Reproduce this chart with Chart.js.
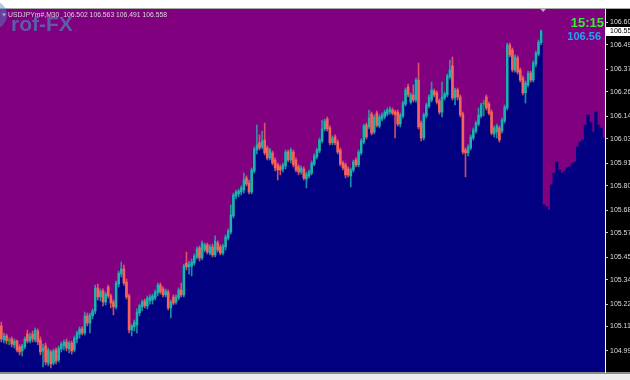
<!DOCTYPE html>
<html><head><meta charset="utf-8">
<style>html,body{margin:0;padding:0;background:#fff;overflow:hidden}canvas{display:block}</style>
<script src="https://cdn.jsdelivr.net/npm/chart.js@4.4.1/dist/chart.umd.min.js"></script>
</head><body>
<canvas id="c" width="630" height="380"></canvas>
<script>
const symbolTitle = 'USDJPYm#,M30';
const clockText = '15:15';
const watermark = 'rof-FX';

const opens = [105.113,105.044,105.064,105.039,105.049,105.020,105.039,105.010,104.990,105.010,105.073,105.039,105.073,105.044,105.088,105.044,104.990,105.015,104.931,104.985,104.931,104.995,104.946,105.000,105.015,105.034,105.000,105.029,104.995,105.049,105.073,105.098,105.078,105.162,105.127,105.162,105.186,105.299,105.255,105.284,105.230,105.304,105.260,105.230,105.206,105.318,105.367,105.392,105.328,105.260,105.093,105.108,
105.118,105.176,105.206,105.235,105.211,105.235,105.240,105.250,105.274,105.313,105.294,105.265,105.279,105.201,105.255,105.230,105.250,105.289,105.265,105.421,105.402,105.406,105.421,105.451,105.495,105.446,105.485,105.510,105.470,105.500,105.461,105.519,105.500,105.470,105.500,105.544,105.573,105.652,105.750,105.760,105.769,105.779,105.838,105.813,105.769,105.872,105.975,106.010,105.990,106.024,105.985,105.936,
105.961,105.926,105.902,105.892,105.882,105.897,105.965,105.926,105.965,105.926,105.892,105.867,105.882,105.833,105.848,105.862,105.906,105.941,105.970,106.019,106.078,106.127,106.083,106.010,106.039,106.014,105.975,105.911,105.902,105.882,105.848,105.877,105.926,105.902,105.961,106.014,106.097,106.088,106.151,106.063,106.156,106.093,106.127,106.137,106.151,106.161,106.171,106.161,106.161,106.102,106.142,106.200,106.284,
106.210,106.245,106.220,106.318,106.107,106.034,106.142,106.191,106.220,106.264,106.255,106.215,106.161,106.230,106.245,106.333,106.387,106.230,106.269,106.235,106.151,105.975,105.961,105.985,106.034,106.068,106.102,106.142,106.200,106.235,106.200,106.161,106.054,106.063,106.083,106.068,106.117,106.181,106.490,106.465,106.367,106.426,106.367,106.328,106.255,106.294,106.352,106.318,106.396,106.445,106.502];

const highs = [105.132,105.078,105.073,105.054,105.059,105.049,105.044,105.020,105.024,105.059,105.093,105.078,105.088,105.103,105.098,105.059,105.024,105.029,105.005,104.995,105.000,105.005,105.015,105.034,105.044,105.049,105.039,105.039,105.064,105.088,105.108,105.108,105.181,105.176,105.176,105.196,105.313,105.318,105.294,105.294,105.279,105.313,105.269,105.240,105.333,105.382,105.426,105.411,105.343,105.269,105.122,105.142,
105.196,105.220,105.240,105.245,105.260,105.265,105.269,105.289,105.323,105.323,105.304,105.294,105.289,105.240,105.265,105.265,105.299,105.323,105.416,105.475,105.431,105.441,105.465,105.500,105.505,105.529,105.519,105.519,105.510,105.514,105.554,105.529,105.510,105.514,105.559,105.588,105.706,105.764,105.779,105.784,105.799,105.862,105.848,105.828,105.887,105.990,106.097,106.049,106.068,106.107,105.995,105.985,
105.970,105.936,105.911,105.902,105.911,105.975,105.975,105.985,105.975,105.936,105.902,105.897,105.892,105.867,105.877,105.921,105.956,105.985,106.034,106.122,106.127,106.137,106.093,106.044,106.049,106.024,105.985,105.921,105.911,105.892,105.887,105.926,105.936,105.975,106.029,106.102,106.107,106.171,106.161,106.147,106.166,106.147,106.156,106.171,106.181,106.186,106.181,106.171,106.171,106.156,106.215,106.279,106.298,
106.255,106.294,106.328,106.401,106.117,106.156,106.205,106.245,106.308,106.274,106.264,106.225,106.308,106.259,106.347,106.416,106.431,106.279,106.279,106.245,106.161,105.985,106.000,106.049,106.083,106.117,106.181,106.205,106.220,106.245,106.210,106.171,106.093,106.102,106.093,106.132,106.196,106.499,106.499,106.475,106.441,106.436,106.377,106.338,106.313,106.362,106.362,106.411,106.460,106.514,106.563];

const lows = [105.034,105.029,105.024,105.020,105.010,105.005,104.985,104.971,104.966,105.000,105.029,105.029,105.034,105.034,105.020,104.971,104.912,104.922,104.917,104.907,104.922,104.926,104.936,104.985,104.995,104.990,104.980,104.975,104.985,105.029,105.054,105.069,105.069,105.113,105.078,105.147,105.172,105.240,105.235,105.211,105.216,105.250,105.201,105.167,105.196,105.304,105.353,105.313,105.245,105.078,105.064,105.088,
105.078,105.162,105.186,105.201,105.196,105.220,105.220,105.240,105.260,105.269,105.255,105.255,105.191,105.152,105.216,105.220,105.240,105.255,105.255,105.387,105.367,105.358,105.411,105.441,105.431,105.436,105.475,105.465,105.461,105.451,105.451,105.475,105.461,105.461,105.485,105.534,105.563,105.642,105.735,105.745,105.755,105.764,105.799,105.760,105.760,105.862,105.956,105.975,105.980,105.951,105.926,105.926,
105.902,105.872,105.828,105.853,105.867,105.882,105.916,105.911,105.892,105.867,105.853,105.857,105.828,105.789,105.838,105.853,105.897,105.931,105.961,106.010,106.068,106.068,106.000,106.000,106.000,105.956,105.897,105.877,105.838,105.843,105.794,105.867,105.892,105.892,105.951,106.005,106.029,106.078,106.049,106.054,106.088,106.083,106.117,106.127,106.142,106.151,106.147,106.034,106.093,106.088,106.132,106.191,106.235,
106.200,106.210,106.210,106.078,106.019,106.024,106.132,106.181,106.210,106.235,106.200,106.151,106.137,106.220,106.235,106.323,106.220,106.196,106.220,106.137,105.956,105.843,105.946,105.975,106.024,106.058,106.093,106.132,106.142,106.171,106.147,106.049,106.039,106.034,106.014,106.058,106.107,106.171,106.431,106.357,106.357,106.347,106.308,106.245,106.205,106.284,106.308,106.308,106.382,106.436,106.491];

const closes = [105.049,105.064,105.039,105.039,105.024,105.039,104.995,104.985,105.015,105.049,105.039,105.064,105.049,105.093,105.034,104.985,105.005,104.936,104.995,104.926,104.990,104.941,105.005,105.024,105.034,105.005,105.029,104.990,105.054,105.078,105.098,105.078,105.162,105.127,105.167,105.186,105.299,105.255,105.284,105.230,105.269,105.260,105.225,105.206,105.323,105.372,105.392,105.323,105.255,105.093,105.113,105.132,
105.181,105.211,105.230,105.211,105.250,105.255,105.260,105.279,105.313,105.279,105.265,105.284,105.201,105.230,105.225,105.255,105.289,105.265,105.406,105.402,105.416,105.426,105.456,105.490,105.446,105.519,105.510,105.475,105.500,105.461,105.529,105.485,105.470,105.505,105.549,105.578,105.657,105.755,105.769,105.774,105.789,105.828,105.808,105.769,105.877,105.980,106.000,105.985,106.019,105.961,105.936,105.975,
105.911,105.887,105.877,105.877,105.902,105.965,105.926,105.975,105.902,105.877,105.867,105.887,105.838,105.857,105.867,105.911,105.946,105.975,106.024,106.078,106.117,106.078,106.010,106.034,106.010,105.965,105.906,105.887,105.853,105.853,105.877,105.916,105.902,105.965,106.019,106.093,106.039,106.132,106.058,106.137,106.097,106.137,106.147,106.161,106.171,106.176,106.156,106.147,106.102,106.147,106.205,106.269,106.245,
106.245,106.220,106.318,106.088,106.034,106.147,106.196,106.235,106.269,106.245,106.210,106.161,106.235,106.250,106.338,106.367,106.230,106.269,106.235,106.147,105.965,105.961,105.990,106.039,106.073,106.107,106.147,106.196,106.200,106.181,106.156,106.058,106.083,106.093,106.024,106.122,106.186,106.490,106.441,106.367,106.431,106.357,106.318,106.255,106.303,106.352,106.318,106.401,106.450,106.504,106.558];

// histogram values continuing to the right of the last candle
const futureHist = [105.706,105.696,105.681,105.804,105.862,105.916,105.877,105.862,105.872,105.887,105.892,105.911,105.916,105.990,106.014,106.024,106.097,106.147,106.112,106.063,106.161,106.097,106.083,106.034];

const tickValues = [104.99,105.11,105.22,105.34,105.45,105.57,105.68,105.80,105.91,106.03,106.14,106.26,106.37,106.49,106.60];
const yMin = 104.887, yMax = 106.666;

const N = closes.length;
const histValues = closes.concat(futureHist);
const categories = histValues.map((_, i) => String(i + 1));
const bodies = opens.map((o, i) => [Math.min(o, closes[i]), Math.max(o, closes[i])]);
const wicks = highs.map((h, i) => [lows[i], h]);

const UP = [32, 178, 170], DOWN = [245, 100, 90], DOJI = [40, 170, 40];
function col(i, a) {
  const c = opens[i] === closes[i] ? DOJI : (closes[i] > opens[i] ? UP : DOWN);
  return `rgba(${c[0]},${c[1]},${c[2]},${a})`;
}
const FONT = '"Liberation Sans", Arial, sans-serif';

const decor = {
  id: 'decor',
  beforeDraw(chart) {
    const {ctx, chartArea: a, width, height} = chart;
    ctx.save();
    ctx.fillStyle = '#ffffff'; ctx.fillRect(0, 0, width, height);
    ctx.fillStyle = '#800080'; ctx.fillRect(a.left, a.top, a.right - a.left, a.bottom - a.top);
    ctx.fillStyle = '#000000'; ctx.fillRect(a.right, a.top, width - a.right, a.bottom - a.top);
    ctx.fillStyle = '#a8a8a8'; ctx.fillRect(0, a.top - 1, width, 1);
    ctx.fillStyle = '#8c8c8c'; ctx.fillRect(0, a.bottom, width, 2);
    ctx.fillStyle = '#ececec'; ctx.fillRect(0, a.bottom + 2, width, height - a.bottom - 2);
    ctx.restore();
  },
  afterDraw(chart) {
    const {ctx, chartArea: a, width} = chart;
    const xs = chart.scales.x, ys = chart.scales.y;
    const last = N - 1;
    ctx.save();
    // header
    ctx.fillStyle = '#d8d8d8';
    ctx.beginPath(); ctx.moveTo(2, 13.5); ctx.lineTo(6, 13.5); ctx.lineTo(4, 16.5); ctx.closePath(); ctx.fill();
    ctx.font = '6.8px ' + FONT;
    ctx.textBaseline = 'middle'; ctx.textAlign = 'left';
    ctx.fillText(symbolTitle + '  ' + [opens[last], highs[last], lows[last], closes[last]].map(v => v.toFixed(3)).join(' '), 8, 15.5);
    // watermark
    ctx.fillStyle = 'rgba(80,140,200,0.45)';
    ctx.beginPath(); ctx.arc(-7, 15, 14, 0, Math.PI * 2); ctx.fill();
    ctx.fillStyle = 'rgba(70,165,200,0.55)';
    ctx.font = 'bold 21px ' + FONT;
    ctx.textBaseline = 'alphabetic';
    ctx.fillText(watermark, 11, 31);
    // clock + price
    ctx.textAlign = 'right';
    ctx.font = 'bold 13px ' + FONT;
    ctx.fillStyle = '#33ee33';
    ctx.fillText(clockText, a.right - 1, 27);
    ctx.font = 'bold 11px ' + FONT;
    ctx.fillStyle = '#20a4f4';
    ctx.fillText(closes[last].toFixed(2), a.right - 4, 40);
    // current price box
    const py = ys.getPixelForValue(closes[last]);
    ctx.fillStyle = '#ffffff';
    ctx.fillRect(a.right + 1, Math.round(py) - 4, width - a.right - 1, 9);
    ctx.fillStyle = '#000000';
    ctx.textAlign = 'left'; ctx.textBaseline = 'middle';
    ctx.font = '7px ' + FONT;
    ctx.fillText((Math.floor(closes[last] * 100) / 100).toFixed(2), a.right + 5, Math.round(py) + 0.5);
    // shift marker
    const mx = xs.getPixelForValue(last) + 2;
    ctx.fillStyle = '#b4b4b4';
    ctx.beginPath(); ctx.moveTo(mx - 3.5, a.top - 1); ctx.lineTo(mx + 3.5, a.top - 1); ctx.lineTo(mx, a.top + 3); ctx.closePath(); ctx.fill();
    ctx.restore();
  }
};

new Chart(document.getElementById('c'), {
  type: 'bar',
  data: {
    labels: categories,
    datasets: [
      { label: 'hist', data: histValues, backgroundColor: '#000080', borderWidth: 0,
        barPercentage: 1, categoryPercentage: 1, grouped: false, order: 3 },
      { label: 'wicks', data: wicks, backgroundColor: (c) => col(c.dataIndex, 0.8), borderWidth: 0,
        barThickness: 1, grouped: false, order: 2 },
      { label: 'bodies', data: bodies, backgroundColor: (c) => col(c.dataIndex, 1), borderWidth: 0,
        barThickness: 2, minBarLength: 1, grouped: false, order: 1 }
    ]
  },
  options: {
    responsive: false, animation: false, devicePixelRatio: 1, events: [],
    layout: { padding: { top: 9, bottom: 8, left: 0, right: 0 } },
    plugins: { legend: { display: false }, tooltip: { enabled: false } },
    scales: {
      x: { display: false, offset: true, grid: { display: false } },
      y: {
        position: 'right', min: yMin, max: yMax,
        afterFit: (s) => { s.width = 25; },
        afterBuildTicks: (s) => { s.ticks = tickValues.map(v => ({ value: v })); },
        ticks: { autoSkip: false, color: '#dcdcdc', padding: 2, font: { family: FONT, size: 7 },
                 callback: (v) => Number(v).toFixed(2) },
        grid: { display: true, drawOnChartArea: false, drawTicks: true, tickLength: 3, color: '#c8c8c8' },
        border: { display: true, color: '#ffffff', width: 1 }
      }
    }
  },
  plugins: [decor]
});
</script>
</body></html>
